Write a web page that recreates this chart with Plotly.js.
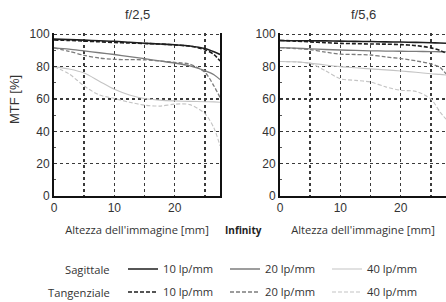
<!DOCTYPE html>
<html><head><meta charset="utf-8">
<script src="https://cdn.plot.ly/plotly-3.0.1.min.js"></script>
<style>html,body{margin:0;padding:0;background:#fff}#c{width:446px;height:302px}</style>
</head><body><div id="c"></div>
<script>
// Image height in mm
const heights = [0, 2.5, 5, 7.5, 10, 12.5, 15, 17.5, 20, 22.5, 25, 26.5, 27.5];
// f/2,5
const f25_S10 = [97, 96.7, 96.4, 96, 95.7, 95.1, 94.5, 94, 93.5, 92.8, 91.2, 89.2, 87.5];
const f25_T10 = [96.5, 96.2, 95.8, 95.4, 94.9, 94.6, 94.3, 94, 93.4, 92.6, 90.5, 87.5, 83.5];
const f25_S20 = [91.6, 90.8, 89.7, 88.6, 87.5, 86.2, 84.9, 83.5, 82.2, 80.5, 77.5, 75, 72];
const f25_T20 = [91.6, 89.5, 87, 85.3, 84.5, 84.3, 84.2, 83.5, 82.6, 81.5, 76.5, 68, 61];
const f25_S40 = [80, 78.5, 76, 71, 66, 62.5, 60.3, 59.3, 58.8, 58.5, 58.3, 58.2, 58];
const f25_T40 = [80, 75.5, 68, 62.5, 60.3, 58, 56.2, 55.6, 56.8, 56.5, 51, 42, 31];
// f/5,6
const f56_S10 = [96, 96, 96, 95.9, 95.8, 95.6, 95.5, 95.3, 95.2, 95, 94.8, 94.6, 94.5];
const f56_T10 = [96.3, 95.8, 95.3, 94.8, 94.4, 94.2, 94, 93.9, 93.6, 93, 91.6, 90, 88.5];
const f56_S20 = [91.7, 91.4, 91, 90.6, 90.3, 90, 89.8, 89.6, 89.5, 89.4, 89.3, 89.2, 89.1];
const f56_T20 = [91.7, 91.2, 90.5, 89, 87.7, 87.5, 87.2, 86, 85, 83.6, 81.7, 79.5, 75.5];
const f56_S40 = [83.2, 83, 82.2, 81, 80, 79.3, 78.6, 78, 77.3, 76.5, 75.6, 75.2, 74.8];
const f56_T40 = [83.2, 82.9, 82, 77.5, 72.5, 71.5, 70.5, 67.5, 65.4, 64.7, 60, 52, 47.5];

const freqLabels = ['10 lp/mm', '20 lp/mm', '40 lp/mm'];
const xTickVals = [0, 5, 10, 15, 20, 25];
const xTickText = ['0', '', '10', '', '20', ''];
const yTickVals = [0, 20, 40, 60, 80, 100];
const titles = ['f/2,5', 'f/5,6'];
const xTitle = "Altezza dell'immagine [mm]";
const yTitle = 'MTF [%]';
const rowLabels = ['Sagittale', 'Tangenziale'];
const centerLabel = 'Infinity';

const colors = ['#1e1e1e', '#7c7c7c', '#c4c4c4'];
const widths = [1.6, 1.3, 1.1];
const DASH = '4px,2px';

const sets = [
  {S: [f25_S10, f25_S20, f25_S40], T: [f25_T10, f25_T20, f25_T40], xa: 'x', ya: 'y', legend: true},
  {S: [f56_S10, f56_S20, f56_S40], T: [f56_T10, f56_T20, f56_T40], xa: 'x2', ya: 'y2', legend: false}
];
const traces = [];
sets.forEach(s => {
  for (let i = 0; i < 3; i++) {
    traces.push({x: heights, y: s.S[i], xaxis: s.xa, yaxis: s.ya, mode: 'lines', type: 'scatter',
      line: {color: colors[i], width: widths[i], shape: 'spline', smoothing: 0.8},
      name: freqLabels[i], showlegend: s.legend, legend: 'legend', hoverinfo: 'skip'});
  }
  for (let i = 0; i < 3; i++) {
    traces.push({x: heights, y: s.T[i], xaxis: s.xa, yaxis: s.ya, mode: 'lines', type: 'scatter',
      line: {color: colors[i], width: widths[i], shape: 'spline', smoothing: 0.8, dash: DASH},
      name: freqLabels[i], showlegend: s.legend, legend: 'legend2', hoverinfo: 'skip'});
  }
});

const tickFont = {family: 'Liberation Sans, Arial, sans-serif', size: 12, color: '#333'};
const labFont = {family: 'Open Sans, sans-serif', size: 11.2, color: '#333'};
function xax(dom) {
  return {domain: dom, range: [0, 27.5], tickvals: xTickVals, ticktext: xTickText, ticks: '',
    showgrid: true, griddash: 'dot', gridcolor: '#3a3a3a', gridwidth: 1.5,
    showline: true, linecolor: '#111', linewidth: 2, zeroline: false, tickfont: tickFont,
    title: {text: xTitle, font: labFont, standoff: 12}, fixedrange: true, automargin: false};
}
function yax(anchor, mirror) {
  return {anchor: anchor, range: [0, 100.8], tickvals: yTickVals, ticks: 'inside', ticklen: 3, tickcolor: '#333',
    minor: {dtick: 10, tick0: 0, ticks: 'inside', ticklen: 2, tickcolor: '#555', showgrid: false},
    showgrid: true, griddash: 'dot', gridcolor: '#3a3a3a', gridwidth: 1.5,
    showline: true, linecolor: '#111', linewidth: 2, mirror: mirror, zeroline: false,
    tickfont: tickFont, fixedrange: true, automargin: false};
}
const W = 392; // paper width
const PB = 196, PH = 163; // plot bottom px, plot height px
const py = p => (PB - p) / PH;
const px = p => (p - 54) / W;
const legendBase = {orientation: 'h', x: 123 / 446, xref: 'container', xanchor: 'left', yref: 'container', yanchor: 'middle',
  font: labFont, entrywidth: 57, entrywidthmode: 'pixels', bgcolor: 'rgba(0,0,0,0)', borderwidth: 0,
  tracegroupgap: 0, itemclick: false, itemdoubleclick: false};
const layout = {
  width: 446, height: 302, margin: {l: 54, r: 0, t: 33, b: 106},
  paper_bgcolor: '#fff', plot_bgcolor: '#fff',
  xaxis: xax([0, 166 / W]),
  yaxis: yax('x', true),
  xaxis2: xax([226 / W, 1]),
  yaxis2: yax('x2', false),
  showlegend: true,
  legend: Object.assign({}, legendBase, {y: 1 - 269 / 302}),
  legend2: Object.assign({}, legendBase, {y: 1 - 292 / 302}),
  annotations: [
    {text: titles[0], xref: 'paper', yref: 'paper', x: px(137), y: py(15), showarrow: false,
      font: {family: 'Liberation Sans, Arial, sans-serif', size: 13, color: '#333'}, xanchor: 'center', yanchor: 'middle'},
    {text: titles[1], xref: 'paper', yref: 'paper', x: px(363), y: py(15), showarrow: false,
      font: {family: 'Liberation Sans, Arial, sans-serif', size: 13, color: '#333'}, xanchor: 'center', yanchor: 'middle'},
    {text: yTitle, xref: 'paper', yref: 'paper', x: px(14), y: py(100), showarrow: false, textangle: -90,
      font: {family: 'Liberation Sans, Arial, sans-serif', size: 13, color: '#333'}, xanchor: 'center', yanchor: 'middle'},
    {text: '<b>' + centerLabel + '</b>', xref: 'paper', yref: 'paper', x: px(243.5), y: py(230), showarrow: false,
      font: {family: 'Open Sans, sans-serif', size: 10, color: '#222'}, xanchor: 'center', yanchor: 'middle'},
    {text: rowLabels[0], xref: 'paper', yref: 'paper', x: px(112), y: py(269), showarrow: false,
      font: labFont, xanchor: 'right', yanchor: 'middle'},
    {text: rowLabels[1], xref: 'paper', yref: 'paper', x: px(112), y: py(292), showarrow: false,
      font: labFont, xanchor: 'right', yanchor: 'middle'}
  ]
};
Plotly.newPlot('c', traces, layout, {staticPlot: true, displayModeBar: false});
</script></body></html>
